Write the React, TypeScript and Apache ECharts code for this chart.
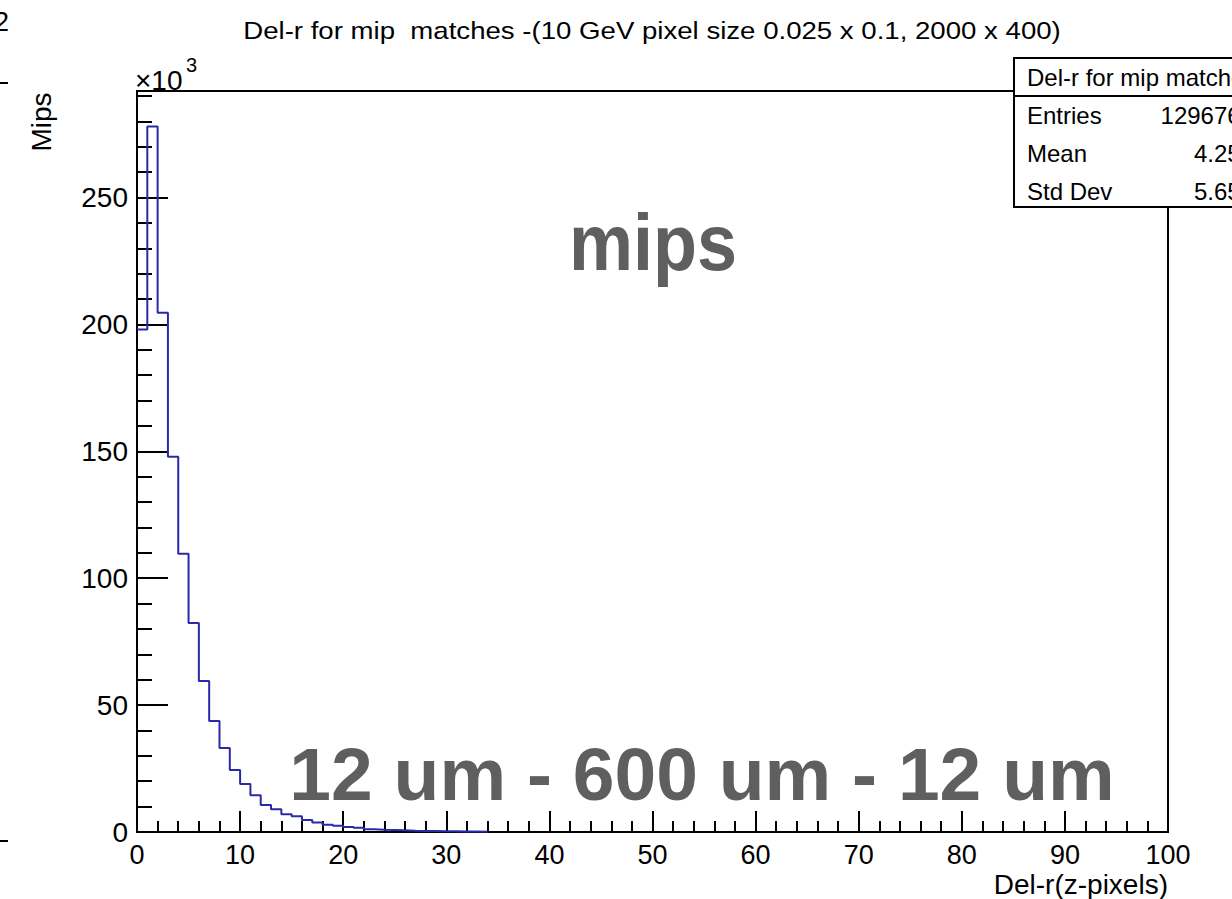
import React, { useEffect, useRef } from "react";
import * as echarts from "echarts";

// Histogram: low edge of each bin (z-pixels) and content (thousands of mips)
const binLowEdges = [
  0, 1, 2, 3, 4, 5, 6, 7, 8, 9, 10, 11, 12, 13, 14, 15, 16, 17, 18, 19, 20,
  21, 22, 23, 24, 25, 26, 27, 28, 29, 30, 31, 32, 33,
];
const binWidth = 1;
const mipsThousands = [
  198, 278, 204.6, 147.9, 109.6, 82.4, 59.5, 43.7, 33.1, 24.4, 18.9, 14.5,
  10.6, 9.0, 7.0, 6.2, 4.7, 3.7, 2.9, 2.5, 2.0, 1.7, 1.1, 0.9, 0.8, 0.7, 0.5,
  0.4, 0.35, 0.3, 0.25, 0.2, 0.15, 0.1,
];

const titleText =
  "Del-r for mip  matches -(10 GeV pixel size 0.025 x 0.1, 2000 x 400)";
const xAxisTitle = "Del-r(z-pixels)";
const yAxisTitle = "Mips";
const statsHeader = "Del-r for mip matches";
const statsLabels = ["Entries", "Mean", "Std Dev"];
const statsValues = ["1296760", "4.253", "5.652"];
const overlayTop = "mips";
const overlayBottom = "12 um - 600 um - 12 um";

const FONT = '"Liberation Sans", Arial, Helvetica, sans-serif';

export default function App() {
  const ref = useRef<HTMLDivElement>(null);

  useEffect(() => {
    document.body.style.margin = "0";
    if (!ref.current) return;
    const chart = echarts.init(ref.current, undefined, { renderer: "svg" });

    const data: number[][] = binLowEdges.map((x, i) => [x, mipsThousands[i]]);
    data.push([binLowEdges[binLowEdges.length - 1] + binWidth, 0]);

    const L = 137,
      T = 91,
      W = 1031,
      H = 741;

    const statsRows = statsLabels
      .map((lab, i) => [
        {
          type: "text",
          x: 1027,
          y: 115 + i * 38.3,
          z: 102,
          style: {
            text: lab,
            fontSize: 24,
            fontFamily: FONT,
            fill: "#000",
            align: "left",
            verticalAlign: "middle",
          },
        },
        {
          type: "text",
          x: 1254,
          y: 115 + i * 38.3,
          z: 102,
          style: {
            text: statsValues[i],
            fontSize: 24,
            fontFamily: FONT,
            fill: "#000",
            align: "right",
            verticalAlign: "middle",
          },
        },
      ])
      .flat();

    chart.setOption({
      animation: false,
      backgroundColor: "#fff",
      textStyle: { fontFamily: FONT },
      grid: {
        left: L,
        top: T,
        width: W,
        height: H,
        show: true,
        borderColor: "#000",
        borderWidth: 2,
        containLabel: false,
      },
      xAxis: {
        type: "value",
        min: 0,
        max: 100,
        interval: 10,
        axisLine: { show: true, onZero: false, lineStyle: { color: "#000", width: 2 } },
        axisTick: { show: true, inside: true, length: 21, lineStyle: { color: "#000", width: 2 } },
        minorTick: { show: true, splitNumber: 5, length: 11, lineStyle: { color: "#000", width: 2 } },
        splitLine: { show: false },
        minorSplitLine: { show: false },
        axisLabel: { fontSize: 27, color: "#000", margin: 9, fontFamily: FONT },
      },
      yAxis: {
        type: "value",
        min: 0,
        max: 292,
        interval: 50,
        axisLine: { show: true, onZero: false, lineStyle: { color: "#000", width: 2 } },
        axisTick: { show: true, inside: true, length: 31, lineStyle: { color: "#000", width: 2 } },
        minorTick: { show: true, splitNumber: 5, length: 15, lineStyle: { color: "#000", width: 2 } },
        splitLine: { show: false },
        minorSplitLine: { show: false },
        axisLabel: {
          fontSize: 28,
          color: "#000",
          margin: 9,
          fontFamily: FONT,
          formatter: (v: number) => (v % 50 === 0 ? String(v) : ""),
        },
      },
      series: [
        {
          type: "line",
          step: "end",
          data,
          symbol: "none",
          clip: true,
          lineStyle: { color: "#2a2aa8", width: 2 },
          z: 3,
        },
      ],
      graphic: [
        // title
        {
          type: "text",
          x: 652,
          y: 31,
          scaleX: 1.15,
          style: {
            text: titleText,
            fontSize: 24,
            fontFamily: FONT,
            fill: "#000",
            align: "center",
            verticalAlign: "middle",
          },
        },
        // x10^3
        {
          type: "text",
          x: 135,
          y: 80,
          style: { text: "×10", fontSize: 28, fontFamily: FONT, fill: "#000", align: "left", verticalAlign: "middle" },
        },
        {
          type: "text",
          x: 186,
          y: 65,
          style: { text: "3", fontSize: 20, fontFamily: FONT, fill: "#000", align: "left", verticalAlign: "middle" },
        },
        // y axis title
        {
          type: "text",
          x: 41,
          y: 122,
          rotation: Math.PI / 2,
          style: { text: yAxisTitle, fontSize: 28, fontFamily: FONT, fill: "#000", align: "center", verticalAlign: "middle" },
        },
        // x axis title
        {
          type: "text",
          x: 1168,
          y: 884,
          style: { text: xAxisTitle, fontSize: 28, fontFamily: FONT, fill: "#000", align: "right", verticalAlign: "middle" },
        },
        // overlay labels
        {
          type: "text",
          x: 653,
          y: 242,
          scaleX: 0.9,
          z: 50,
          style: { text: overlayTop, fontSize: 80, fontWeight: "bold", fontFamily: FONT, fill: "#5f5f5f", align: "center", verticalAlign: "middle" },
        },
        {
          type: "text",
          x: 702,
          y: 774,
          z: 50,
          style: { text: overlayBottom, fontSize: 75, fontWeight: "bold", fontFamily: FONT, fill: "#5f5f5f", align: "center", verticalAlign: "middle" },
        },
        // stats box
        {
          type: "rect",
          z: 100,
          shape: { x: 1014, y: 58, width: 260, height: 149 },
          style: { fill: "#fff", stroke: "#000", lineWidth: 2 },
        },
        {
          type: "line",
          z: 101,
          shape: { x1: 1014, y1: 96, x2: 1274, y2: 96 },
          style: { stroke: "#000", lineWidth: 2 },
        },
        {
          type: "text",
          x: 1027,
          y: 77,
          z: 102,
          style: { text: statsHeader, fontSize: 24, fontFamily: FONT, fill: "#000", align: "left", verticalAlign: "middle" },
        },
        ...statsRows,
        // remnants of the neighbouring pad at the left edge
        {
          type: "text",
          x: 9,
          y: 22,
          style: { text: "2", fontSize: 27, fontFamily: FONT, fill: "#000", align: "right", verticalAlign: "middle" },
        },
        {
          type: "line",
          shape: { x1: 0, y1: 83, x2: 8, y2: 83 },
          style: { stroke: "#000", lineWidth: 2 },
        },
        {
          type: "line",
          shape: { x1: 0, y1: 841, x2: 8, y2: 841 },
          style: { stroke: "#000", lineWidth: 2 },
        },
      ],
    });

    return () => chart.dispose();
  }, []);

  return <div ref={ref} style={{ width: 1232, height: 899 }} />;
}
